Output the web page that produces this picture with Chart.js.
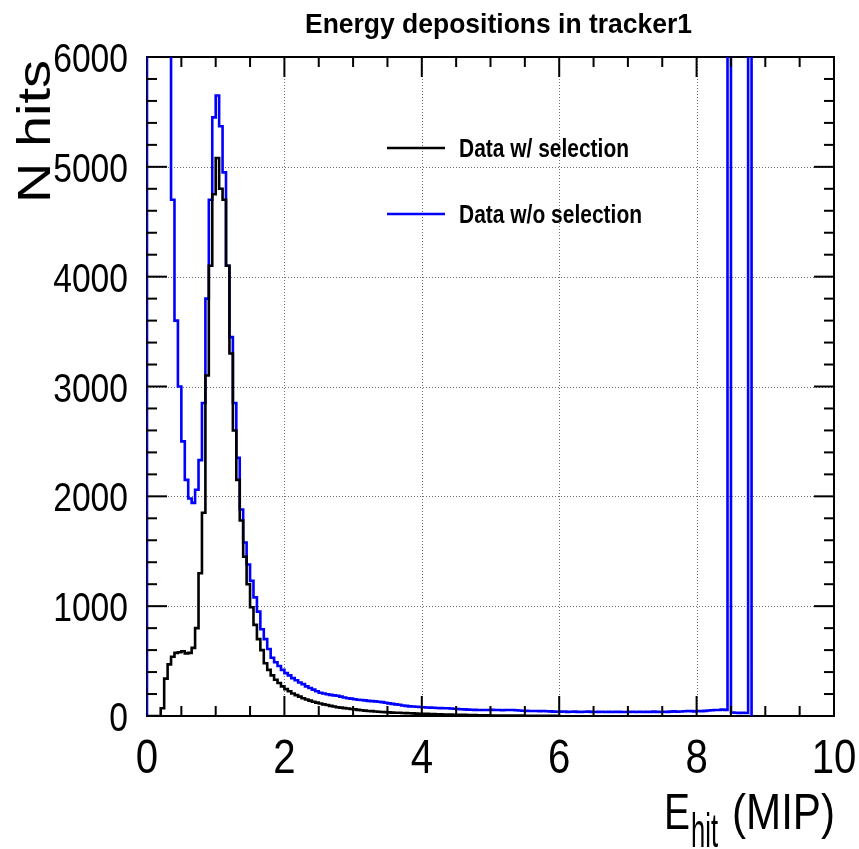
<!DOCTYPE html>
<html>
<head>
<meta charset="utf-8">
<script src="https://cdn.jsdelivr.net/npm/chart.js@4.4.1/dist/chart.umd.min.js"></script>
<style>
html, body { margin: 0; padding: 0; background: #fff; }
canvas { display: block; }
</style>
</head>
<body>
<canvas id="ehit" width="859" height="849"></canvas>
<script>
// histogram bins, 0.05 MIP wide, starting at 0
var binWidth = 0.05;

var withSelection = [
  0, 0, 0, 0, 70, 340, 470, 540, 575, 580,
  590, 570, 575, 620, 800, 1300, 1850, 3100, 4100, 4750,
  5080, 4800, 4700, 4100, 3300, 2600, 2150, 1780, 1450, 1200,
  990, 830, 700, 600, 480, 420, 370, 330, 300, 270,
  245, 225, 205, 190, 176, 162, 150, 140, 130, 122,
  114, 106, 100, 92, 86, 80, 76, 72, 68, 64,
  60, 56, 52, 49, 46, 44, 41, 39, 37, 35,
  33, 31, 30, 29, 27, 26, 25, 24, 22, 21,
  20, 19, 18, 17, 16, 15, 14, 13, 13, 12,
  11, 10, 10, 9, 8, 8, 7, 7, 6, 6,
  5, 5, 5, 4, 4, 4, 3, 3, 3, 3,
  2, 2, 2, 2, 2, 1, 1, 1, 1, 1
];

var withoutSelection = [
  9000, 9000, 9000, 9000, 9000, 9000, 9000, 4700, 3600, 3000,
  2500, 2150, 1980, 1940, 2060, 2330, 2850, 3800, 4700, 5450,
  5650, 5370, 4950, 4100, 3450, 2850, 2350, 1880, 1580, 1380,
  1230, 1080, 950, 790, 700, 610, 530, 490, 455, 420,
  390, 370, 345, 325, 305, 290, 270, 255, 240, 225,
  212, 205, 198, 192, 188, 185, 176, 168, 162, 158,
  152, 148, 145, 142, 138, 135, 133, 130, 126, 120,
  115, 110, 106, 102, 96, 92, 88, 86, 84, 82,
  80, 78, 76, 75, 73, 72, 71, 70, 68, 66,
  64, 62, 60, 58, 57, 56, 55, 55, 54, 55,
  56, 54, 55, 53, 55, 54, 55, 52, 50, 48,
  47, 46, 45, 46, 44, 45, 43, 42, 40, 39,
  40, 41, 38, 39, 40, 38, 37, 39, 40, 38,
  37, 38, 39, 36, 38, 37, 39, 38, 36, 37,
  38, 39, 37, 39, 36, 38, 37, 40, 38, 37,
  39, 38, 40, 42, 39, 41, 43, 46, 44, 42,
  45, 44, 47, 50, 52, 55, 54, 58, 56, 9000,
  32, 30, 28, 30, 27, 9000
];

var seriesNames = ["Data w/ selection", "Data w/o selection"];
var seriesColors = ["#000000", "#0000ff"];
var xTickLabels = ["0", "2", "4", "6", "8", "10"];
var yTickLabels = ["0", "1000", "2000", "3000", "4000", "5000", "6000"];
var chartTitle = "Energy depositions in tracker1";

// turn bin contents into step points (lower edge of every bin)
function histPoints(counts) {
  var pts = [{x: 0, y: 0}];
  for (var i = 0; i < counts.length; i++) {
    pts.push({x: i * binWidth, y: counts[i]});
  }
  pts.push({x: counts.length * binWidth, y: 0});
  return pts;
}

var FONT = '"Liberation Sans", Arial, Helvetica, sans-serif';

// text squeezed to a given width (the reference is horizontally compressed)
function fitText(ctx, txt, x, y, size, weight, width, align) {
  ctx.save();
  ctx.font = weight + " " + size + "px " + FONT;
  ctx.textBaseline = "alphabetic";
  ctx.textAlign = align || "left";
  var w = ctx.measureText(txt).width;
  ctx.translate(x, y);
  ctx.scale(width / w, 1);
  ctx.fillText(txt, 0, 0);
  ctx.restore();
}

function squeezeText(ctx, txt, x, y, size, sx, align) {
  ctx.save();
  ctx.font = size + "px " + FONT;
  ctx.textBaseline = "alphabetic";
  ctx.textAlign = align;
  ctx.translate(x, y);
  ctx.scale(sx, 1);
  ctx.fillText(txt, 0, 0);
  ctx.restore();
}

function line(ctx, x1, y1, x2, y2) {
  ctx.beginPath();
  ctx.moveTo(x1, y1);
  ctx.lineTo(x2, y2);
  ctx.stroke();
}

var rootStyle = {
  id: "rootStyle",
  beforeDatasetsDraw: function(chart) {
    var ctx = chart.ctx, a = chart.chartArea;
    var xs = chart.scales.x, ys = chart.scales.y;
    ctx.save();
    ctx.strokeStyle = "#6e6e6e";
    ctx.lineWidth = 1;
    ctx.setLineDash([1, 2]);
    xs.ticks.forEach(function(t) {
      if (t.value <= xs.min || t.value >= xs.max) return;
      var px = Math.round(xs.getPixelForValue(t.value)) + 0.5;
      line(ctx, px, a.bottom, px, a.top);
    });
    ys.ticks.forEach(function(t) {
      if (t.value <= ys.min || t.value >= ys.max) return;
      var py = Math.round(ys.getPixelForValue(t.value)) + 0.5;
      line(ctx, a.left, py, a.right, py);
    });
    ctx.setLineDash([]);
    ctx.strokeStyle = "#000";
    ctx.lineWidth = 2;
    ctx.strokeRect(a.left, a.top, a.right - a.left, a.bottom - a.top);
    ctx.restore();
  },
  afterDatasetsDraw: function(chart) {
    var ctx = chart.ctx, a = chart.chartArea;
    var xs = chart.scales.x, ys = chart.scales.y;
    ctx.save();
    ctx.strokeStyle = "#000";
    ctx.fillStyle = "#000";
    ctx.lineWidth = 2;

    // tick marks, inside the frame on all four sides
    function xTick(v, len) {
      if (v <= xs.min || v >= xs.max) return;
      var px = xs.getPixelForValue(v);
      line(ctx, px, a.bottom, px, a.bottom - len);
      line(ctx, px, a.top, px, a.top + len);
    }
    function yTick(v, len) {
      if (v <= ys.min || v >= ys.max) return;
      var py = ys.getPixelForValue(v);
      line(ctx, a.left, py, a.left + len, py);
      line(ctx, a.right, py, a.right - len, py);
    }
    xs.ticks.forEach(function(t, i) {
      xTick(t.value, 20);
      var next = xs.ticks[i + 1];
      if (next) for (var k = 1; k < 4; k++) xTick(t.value + (next.value - t.value) * k / 4, 10);
    });
    ys.ticks.forEach(function(t, i) {
      yTick(t.value, 20);
      var next = ys.ticks[i + 1];
      if (next) for (var k = 1; k < 5; k++) yTick(t.value + (next.value - t.value) * k / 5, 10);
    });

    // tick labels
    xs.ticks.forEach(function(t, i) {
      squeezeText(ctx, xTickLabels[i], xs.getPixelForValue(t.value), 773, 49, 0.82, "center");
    });
    ys.ticks.forEach(function(t, i) {
      squeezeText(ctx, yTickLabels[i], 128, ys.getPixelForValue(t.value) + 15, 41, 0.82, "right");
    });

    // title
    fitText(ctx, chartTitle, 305, 33, 28, "bold", 387);

    // x axis title  E_hit (MIP)
    fitText(ctx, "E", 664, 829, 50, "normal", 26);
    fitText(ctx, "hit", 691, 847, 48, "normal", 27);
    fitText(ctx, "(MIP)", 732, 829, 50, "normal", 103);

    // y axis title, rotated, glyph height squeezed
    ctx.save();
    ctx.font = "56px " + FONT;
    ctx.textBaseline = "alphabetic";
    ctx.textAlign = "left";
    var w = ctx.measureText("N hits").width;
    ctx.translate(50, 203);
    ctx.rotate(-Math.PI / 2);
    ctx.scale(143 / w, 0.82);
    ctx.fillText("N hits", 0, 0);
    ctx.restore();

    // legend
    var legY = [148, 214];
    var legW = [170, 183];
    chart.data.datasets.forEach(function(ds, i) {
      ctx.strokeStyle = ds.borderColor;
      ctx.lineWidth = 2.6;
      line(ctx, 387, legY[i], 445, legY[i]);
      ctx.fillStyle = "#000";
      fitText(ctx, ds.label, 459, legY[i] + 9, 25, "bold", legW[i]);
    });
    ctx.restore();
  }
};

new Chart(document.getElementById("ehit"), {
  type: "line",
  data: {
    datasets: [
      {
        label: seriesNames[0],
        data: histPoints(withSelection),
        borderColor: seriesColors[0],
        borderWidth: 2.6,
        stepped: true,
        pointRadius: 0,
        fill: false,
        clip: 0
      },
      {
        label: seriesNames[1],
        data: histPoints(withoutSelection),
        borderColor: seriesColors[1],
        borderWidth: 2.6,
        stepped: true,
        pointRadius: 0,
        fill: false,
        clip: 0
      }
    ]
  },
  options: {
    responsive: false,
    animation: false,
    layout: { padding: { top: 57, right: 25, left: 0, bottom: 0 } },
    plugins: {
      legend: { display: false },
      title: { display: false },
      tooltip: { enabled: false }
    },
    scales: {
      x: {
        type: "linear",
        min: 0,
        max: 10,
        ticks: { stepSize: 2, display: false },
        grid: { display: false, drawTicks: false },
        border: { display: false },
        afterFit: function(s) { s.height = 133; }
      },
      y: {
        type: "linear",
        min: 0,
        max: 6000,
        ticks: { stepSize: 1000, display: false },
        grid: { display: false, drawTicks: false },
        border: { display: false },
        afterFit: function(s) { s.width = 147; }
      }
    }
  },
  plugins: [rootStyle]
});
</script>
</body>
</html>
